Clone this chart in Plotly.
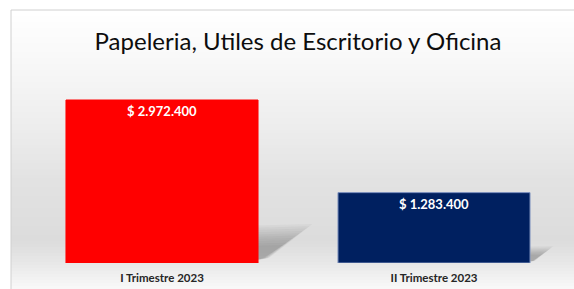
import plotly.graph_objects as go

categories = ["I Trimestre 2023", "II Trimestre 2023"]
values = [2972400, 1283400]
bar_colors = ["#FF0000", "#002060"]
title_text = "Papeleria, Utiles de Escritorio y Oficina"

W, H = 574, 289
PL, PR, PT, PB = 26, 570, 70, 263  # plot area in px


def fmt(v):
    return "$ " + f"{v:,}".replace(",", ".")


def px_x(p):
    return p / W


def px_y(p):
    return 1 - p / H


fig = go.Figure()

# background gradient bands (decoration)
stops = [(10, 255), (60, 248), (120, 238), (180, 226), (240, 220), (262, 232), (289, 250)]
shapes = []
y = 10
step = 3
while y < H:
    for (a, ca), (b, cb) in zip(stops[:-1], stops[1:]):
        if a <= y <= b:
            c = int(round(ca + (cb - ca) * (y - a) / (b - a)))
            break
    shapes.append(dict(type="rect", xref="paper", yref="paper", layer="below",
                       x0=px_x(11), x1=1.0, y0=px_y(min(y + step, H)), y1=px_y(y),
                       fillcolor=f"rgb({c},{c},{c})", line=dict(width=0)))
    y += step
# frame lines
shapes.append(dict(type="line", xref="paper", yref="paper", layer="below",
                   x0=px_x(11), x1=1.0, y0=px_y(10), y1=px_y(10),
                   line=dict(color="#d0d0d0", width=1)))
shapes.append(dict(type="line", xref="paper", yref="paper", layer="below",
                   x0=px_x(11), x1=px_x(11), y0=0, y1=px_y(10),
                   line=dict(color="#d0d0d0", width=1)))

# soft perspective shadows derived from bar values
half = 0.353
vmax = max(values)
n_layers = 10
for i, v in enumerate(values):
    r = v / vmax
    xr = i + half
    for k in range(n_layers):
        s = 1 - 0.06 * k
        shapes.append(dict(type="path", xref="x", yref="y", layer="below",
                           path=(f"M {xr - 0.03},{0.01 * v} L {xr - 0.03},{0.23 * v * s} "
                                 f"L {xr + 0.2 * r * s},{0.24 * v * s} "
                                 f"L {xr + 0.04 * r * s},{0.03 * v} Z"),
                           fillcolor="rgba(70,70,70,0.045)", line=dict(width=0)))

fig.add_trace(go.Bar(
    x=list(range(len(categories))), y=values,
    marker=dict(color=bar_colors,
                line=dict(color=["#FF0000", "#7f93bf"], width=1)),
    text=[fmt(v) for v in values],
    textposition="inside", insidetextanchor="end",
    textfont=dict(family="Lato", size=13, color="white", weight="bold"),
    width=0.706, hoverinfo="skip",
))

fig.update_layout(
    width=W, height=H,
    margin=dict(l=0, r=0, t=0, b=0),
    paper_bgcolor="white", plot_bgcolor="rgba(0,0,0,0)",
    showlegend=False,
    shapes=shapes,
    title=dict(text=title_text, x=px_x(298), xanchor="center", y=px_y(42), yanchor="middle",
               font=dict(family="Lato", size=24, color="#0d0d0d")),
    xaxis=dict(domain=[px_x(PL), px_x(PR)], range=[-0.5, 1.5],
               tickmode="array", tickvals=list(range(len(categories))), ticktext=categories,
               showgrid=False, zeroline=False, showline=False, ticks="",
               ticklabelstandoff=6,
               tickfont=dict(family="Lato", size=11.5, color="#262626", weight="bold")),
    yaxis=dict(domain=[px_y(PB), px_y(PT)], range=[0, vmax * (PB - PT) / (PB - 100)],
               visible=False),
    bargap=0.294,
)

fig.write_html("out.html", config={"displayModeBar": False},
               post_script="document.body.style.margin='0';document.body.style.overflow='hidden';")
